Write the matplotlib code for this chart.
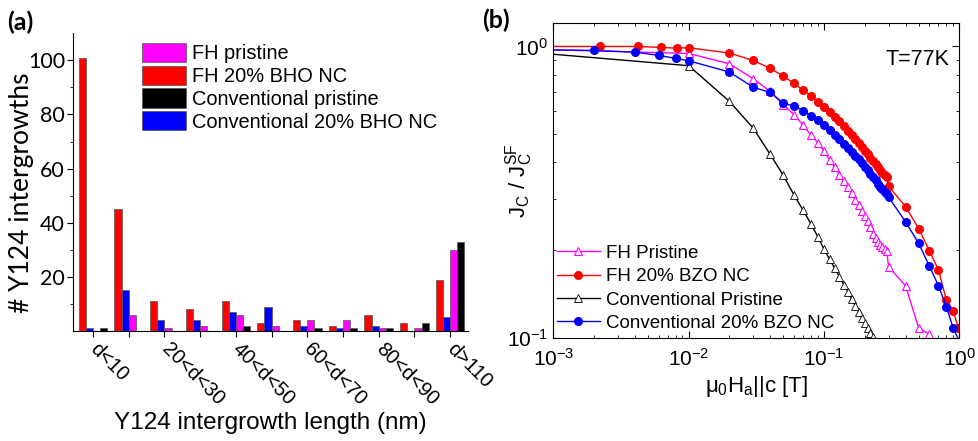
import numpy as np
import matplotlib
matplotlib.use("Agg")
import matplotlib.pyplot as plt
from matplotlib.ticker import FixedLocator, LogLocator, NullFormatter

plt.rcParams['font.family'] = ['Liberation Sans', 'DejaVu Sans']
plt.rcParams['mathtext.fontset'] = 'custom'
plt.rcParams['mathtext.rm'] = 'Liberation Sans'
plt.rcParams['mathtext.it'] = 'Liberation Sans'
plt.rcParams['mathtext.bf'] = 'Liberation Sans:bold'

# ---- (a) intergrowth histogram ----
categories = ['d<10', '10<d<20', '20<d<30', '30<d<40', '40<d<50', '50<d<60',
              '60<d<70', '70<d<80', '80<d<90', '90<d<100', 'd>110']
fh_bho = [101, 45, 11, 8, 11, 3, 4, 2, 6, 3, 19]
conv_bho = [1, 15, 4, 4, 7, 9, 2, 1, 2, 0, 5]
fh_pristine = [0, 6, 1, 2, 6, 2, 4, 4, 1, 1, 30]
conv_pristine = [1, 0, 0, 0, 2, 0, 1, 1, 1, 3, 33]

# ---- (b) Jc(H) curves ----
fh_pris_h = [0.0005, 0.01, 0.02, 0.03, 0.04, 0.05, 0.06, 0.07, 0.08, 0.09,
             0.10, 0.11, 0.12, 0.13, 0.14, 0.15, 0.16, 0.17, 0.18, 0.19,
             0.20, 0.21, 0.22, 0.23, 0.24, 0.25, 0.26, 0.27, 0.28, 0.29,
             0.3, 0.4, 0.5, 0.6]
fh_pris_j = [0.982, 0.946, 0.872, 0.775, 0.701, 0.631, 0.583, 0.537, 0.496, 0.467,
             0.437, 0.408, 0.385, 0.363, 0.344, 0.328, 0.313, 0.298, 0.285, 0.273,
             0.262, 0.251, 0.241, 0.228, 0.220, 0.214, 0.209, 0.205, 0.202, 0.199,
             0.175, 0.151, 0.108, 0.103]

fh_bzo_h = [0.0005, 0.0022, 0.0042, 0.0062, 0.0082, 0.01, 0.02, 0.03, 0.04, 0.05,
            0.06, 0.07, 0.08, 0.09, 0.10, 0.11, 0.12, 0.13, 0.14, 0.15,
            0.16, 0.17, 0.18, 0.19, 0.20, 0.21, 0.22, 0.23, 0.24, 0.25,
            0.26, 0.27, 0.28, 0.29, 0.3, 0.4, 0.5, 0.6, 0.7, 0.8, 0.9, 0.98]
fh_bzo_j = [1.0, 1.0, 1.0, 0.992, 0.987, 0.99, 0.949, 0.895, 0.841, 0.791,
            0.747, 0.707, 0.676, 0.645, 0.618, 0.596, 0.574, 0.553, 0.533, 0.514,
            0.497, 0.481, 0.466, 0.452, 0.439, 0.427, 0.415, 0.404, 0.394, 0.385,
            0.377, 0.369, 0.362, 0.356, 0.331, 0.282, 0.237, 0.199, 0.171, 0.135, 0.124, 0.108]

conv_pris_h = [0.0005, 0.01, 0.02, 0.03, 0.04, 0.05, 0.06, 0.07, 0.08, 0.09,
               0.10, 0.11, 0.12, 0.13, 0.14, 0.15, 0.16, 0.17, 0.18, 0.19,
               0.20, 0.21, 0.22, 0.23]
conv_pris_j = [0.966, 0.859, 0.648, 0.524, 0.426, 0.361, 0.309, 0.274, 0.246, 0.222,
               0.201, 0.186, 0.173, 0.162, 0.152, 0.144, 0.136, 0.129, 0.123, 0.117,
               0.112, 0.108, 0.104, 0.101]

conv_bzo_h = [0.0005, 0.002, 0.004, 0.006, 0.008, 0.01, 0.02, 0.03, 0.04, 0.05,
              0.06, 0.07, 0.08, 0.09, 0.10, 0.11, 0.12, 0.13, 0.14, 0.15,
              0.16, 0.17, 0.18, 0.19, 0.20, 0.21, 0.22, 0.23, 0.24, 0.25,
              0.26, 0.27, 0.28, 0.29, 0.3, 0.4, 0.5, 0.6, 0.7, 0.8, 0.9, 1.0]
conv_bzo_j = [0.976, 0.969, 0.956, 0.932, 0.910, 0.893, 0.817, 0.724, 0.696, 0.638,
              0.625, 0.602, 0.577, 0.557, 0.536, 0.516, 0.497, 0.480, 0.464, 0.449,
              0.435, 0.422, 0.410, 0.398, 0.387, 0.376, 0.366, 0.356, 0.347, 0.338,
              0.330, 0.323, 0.317, 0.312, 0.304, 0.250, 0.211, 0.176, 0.151, 0.128, 0.108, 0.097]

fig = plt.figure(figsize=(9.79, 4.41), dpi=100)
ax1 = fig.add_axes([0.0749, 0.2494, 0.4031, 0.6751])
ax2 = fig.add_axes([0.5652, 0.2340, 0.4148, 0.7130])

# ---------- panel (a) ----------
x = np.arange(len(categories))
w = 0.2
ec = '#555555'
ax1.bar(x - 1.5 * w, fh_bho, w, color='#ff0000', edgecolor=ec, lw=0.5, label='FH 20% BHO NC')
ax1.bar(x - 0.5 * w, conv_bho, w, color='#0000ff', edgecolor=ec, lw=0.5, label='Conventional 20% BHO NC')
ax1.bar(x + 0.5 * w, fh_pristine, w, color='#ff00ff', edgecolor=ec, lw=0.5, label='FH pristine')
ax1.bar(x + 1.5 * w, conv_pristine, w, color='#000000', edgecolor=ec, lw=0.5, label='Conventional pristine')

ax1.set_xlim(-0.55, 10.5)
ax1.set_ylim(0, 110)
ax1.spines['top'].set_visible(False)
ax1.spines['right'].set_visible(False)
ax1.set_xticks(x)
ax1.set_xticklabels([c if i % 2 == 0 else '' for i, c in enumerate(categories)],
                    rotation=-45, ha='left', va='center', rotation_mode='anchor', fontsize=14.5)
ax1.tick_params(axis='x', direction='out', length=4, pad=7)
ax1.set_yticks([20, 40, 60, 80, 100])
ax1.yaxis.set_minor_locator(FixedLocator([10, 30, 50, 70, 90]))
ax1.tick_params(axis='y', which='major', direction='out', length=4, labelsize=15.5, pad=2)
ax1.tick_params(axis='y', which='minor', direction='out', length=2.5)
for lab in ax1.get_yticklabels():
    lab.set_family('Lato')
ax1.set_xlabel('Y124 intergrowth length (nm)', fontsize=17.5, labelpad=2)
ax1.set_ylabel('# Y124 intergrowths', fontsize=19, family='Lato')
ax1.yaxis.set_label_coords(-0.10, 0.463)

h, l = ax1.get_legend_handles_labels()
order = [2, 0, 3, 1]
ax1.legend([h[i] for i in order], [l[i] for i in order], loc='upper left',
           bbox_to_anchor=(0.145, 1.005), frameon=False, fontsize=14.4,
           handlelength=2.2, handleheight=1.1, labelspacing=0.12, handletextpad=0.3,
           borderaxespad=0.15)

# ---------- panel (b) ----------
ax2.plot(fh_pris_h, fh_pris_j, '-^', color='#ff00ff', mfc='white', mec='#ff00ff',
         ms=6, lw=1, mew=0.8, label='FH Pristine')
ax2.plot(fh_bzo_h, fh_bzo_j, '-o', color='#ff0000', ms=5.5, lw=1, label='FH 20% BZO NC')
ax2.plot(conv_pris_h, conv_pris_j, '-^', color='black', mfc='white', mec='black',
         ms=6, lw=1, mew=0.6, label='Conventional Pristine')
ax2.plot(conv_bzo_h, conv_bzo_j, '-o', color='#0000ff', ms=5.5, lw=1,
         label='Conventional 20% BZO NC')

ax2.set_xscale('log')
ax2.set_yscale('log')
ax2.set_xlim(1e-3, 1)
ax2.set_ylim(0.1, 1.2)
ax2.set_xticks([1e-3, 1e-2, 1e-1, 1])
ax2.set_xticklabels(['10$^{-3}$', '10$^{-2}$', '10$^{-1}$', '10$^{0}$'])
ax2.set_yticks([0.1, 1])
ax2.set_yticklabels(['10$^{-1}$', '10$^{0}$'])
ax2.xaxis.set_minor_locator(LogLocator(base=10, subs=np.arange(2, 10)))
ax2.yaxis.set_minor_locator(LogLocator(base=10, subs=np.arange(2, 10)))
ax2.xaxis.set_minor_formatter(NullFormatter())
ax2.yaxis.set_minor_formatter(NullFormatter())
ax2.tick_params(which='major', direction='in', length=5, top=True, right=True, labelsize=15)
ax2.tick_params(axis='x', which='major', pad=7)
ax2.tick_params(which='minor', direction='in', length=2.5, top=True, right=True)
ax2.set_xlabel(r'$\mu_0$H$_a$||c [T]', fontsize=16, labelpad=3)
ax2.set_ylabel(r'J$_C$ / J$_C^{SF}$', fontsize=16)
ax2.yaxis.set_label_coords(-0.045, 0.5)
ax2.text(0.975, 0.885, 'T=77K', transform=ax2.transAxes, ha='right', va='center', fontsize=15.5)
ax2.legend(loc='lower left', frameon=False, fontsize=13.5, handlelength=2.3,
           labelspacing=0.33, handletextpad=0.3, borderaxespad=0.0,
           bbox_to_anchor=(-0.01, -0.005))

fig.text(0.007, 0.950, '(a)', fontsize=18, fontweight='bold', family='Lato', va='center')
fig.text(0.492, 0.955, '(b)', fontsize=18, fontweight='bold', family='Lato', va='center')

fig.savefig('out.png', dpi=100)
